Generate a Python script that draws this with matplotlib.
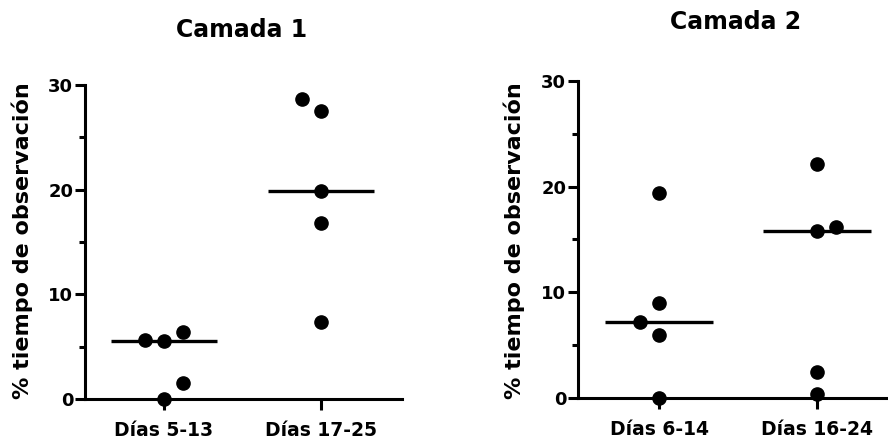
import numpy as np
import matplotlib
matplotlib.use("Agg")
import matplotlib.pyplot as plt

plt.rcParams['font.family'] = ['DejaVu Sans']
plt.rcParams['font.weight'] = 'bold'

# datos
grupos_c1 = ["Días 5-13", "Días 17-25"]
c1_g1 = [0, 1.5, 5.5, 6.4, 5.6]
c1_g2 = [7.4, 16.8, 19.9, 27.5, 28.7]

grupos_c2 = ["Días 6-14", "Días 16-24"]
c2_g1 = [0, 6.0, 7.2, 9.0, 19.4]
c2_g2 = [0.4, 2.5, 15.8, 16.2, 22.1]

# colocacion de los puntos a izquierda/derecha (como en GraphPad)
lado_c1_g1 = [0, 1, 0, 1, -1]
lado_c1_g2 = [0, 0, 0, 0, -1]
lado_c2_g1 = [0, 0, -1, 0, 0]
lado_c2_g2 = [0, 0, 0, 1, 0]

fig = plt.figure(figsize=(8.88, 4.44), dpi=100)


def panel(rect, xlim, titulo, grupos, datos, lados, titulo_xy, ylab_xy):
    ax = fig.add_axes(rect)
    for k in range(len(datos)):
        x = [k + 1 + 0.122 * l for l in lados[k]]
        ax.plot(x, datos[k], 'o', color='black', markersize=9.5, clip_on=False, zorder=3)
        med = np.median(datos[k])
        ax.plot([k + 1 - 0.34, k + 1 + 0.34], [med, med], color='black', lw=2.4,
                solid_capstyle='butt', clip_on=False, zorder=2)
    ax.set_xlim(xlim)
    ax.set_ylim(0, 30)
    ax.set_xticks([1, 2])
    ax.set_xticklabels(grupos, fontsize=13.5, fontweight='bold')
    ax.set_yticks([0, 10, 20, 30])
    ax.set_yticks([5, 15, 25], minor=True)
    ax.tick_params(axis='y', labelsize=13, width=2.2, length=7, pad=1.5)
    ax.tick_params(axis='y', which='minor', width=2.2, length=4)
    ax.tick_params(axis='x', width=2.2, length=8, pad=8)
    for s in ['top', 'right']:
        ax.spines[s].set_visible(False)
    for s in ['left', 'bottom']:
        ax.spines[s].set_linewidth(2.2)
    ax.set_ylabel("% tiempo de observación", fontsize=16, fontweight='bold')
    ax.yaxis.set_label_coords(ylab_xy[0], ylab_xy[1])
    fig.text(titulo_xy[0], titulo_xy[1], titulo, fontsize=17, fontweight='bold',
             ha='center', va='center')
    return ax


panel([85 / 888, 45 / 444, 317 / 888, 314 / 444], (1 - 79 / 157, 2 + 81 / 157),
      "Camada 1", grupos_c1, [c1_g1, c1_g2], [lado_c1_g1, lado_c1_g2],
      (242 / 888, 1 - 30 / 444), (-0.164, 0.503))
panel([578 / 888, 46 / 444, 310 / 888, 317 / 444], (1 - 81 / 158, 2 + 71 / 158),
      "Camada 2", grupos_c2, [c2_g1, c2_g2], [lado_c2_g1, lado_c2_g2],
      (736 / 888, 1 - 22 / 444), (-0.171, 0.498))

fig.savefig("out.png", dpi=100)
